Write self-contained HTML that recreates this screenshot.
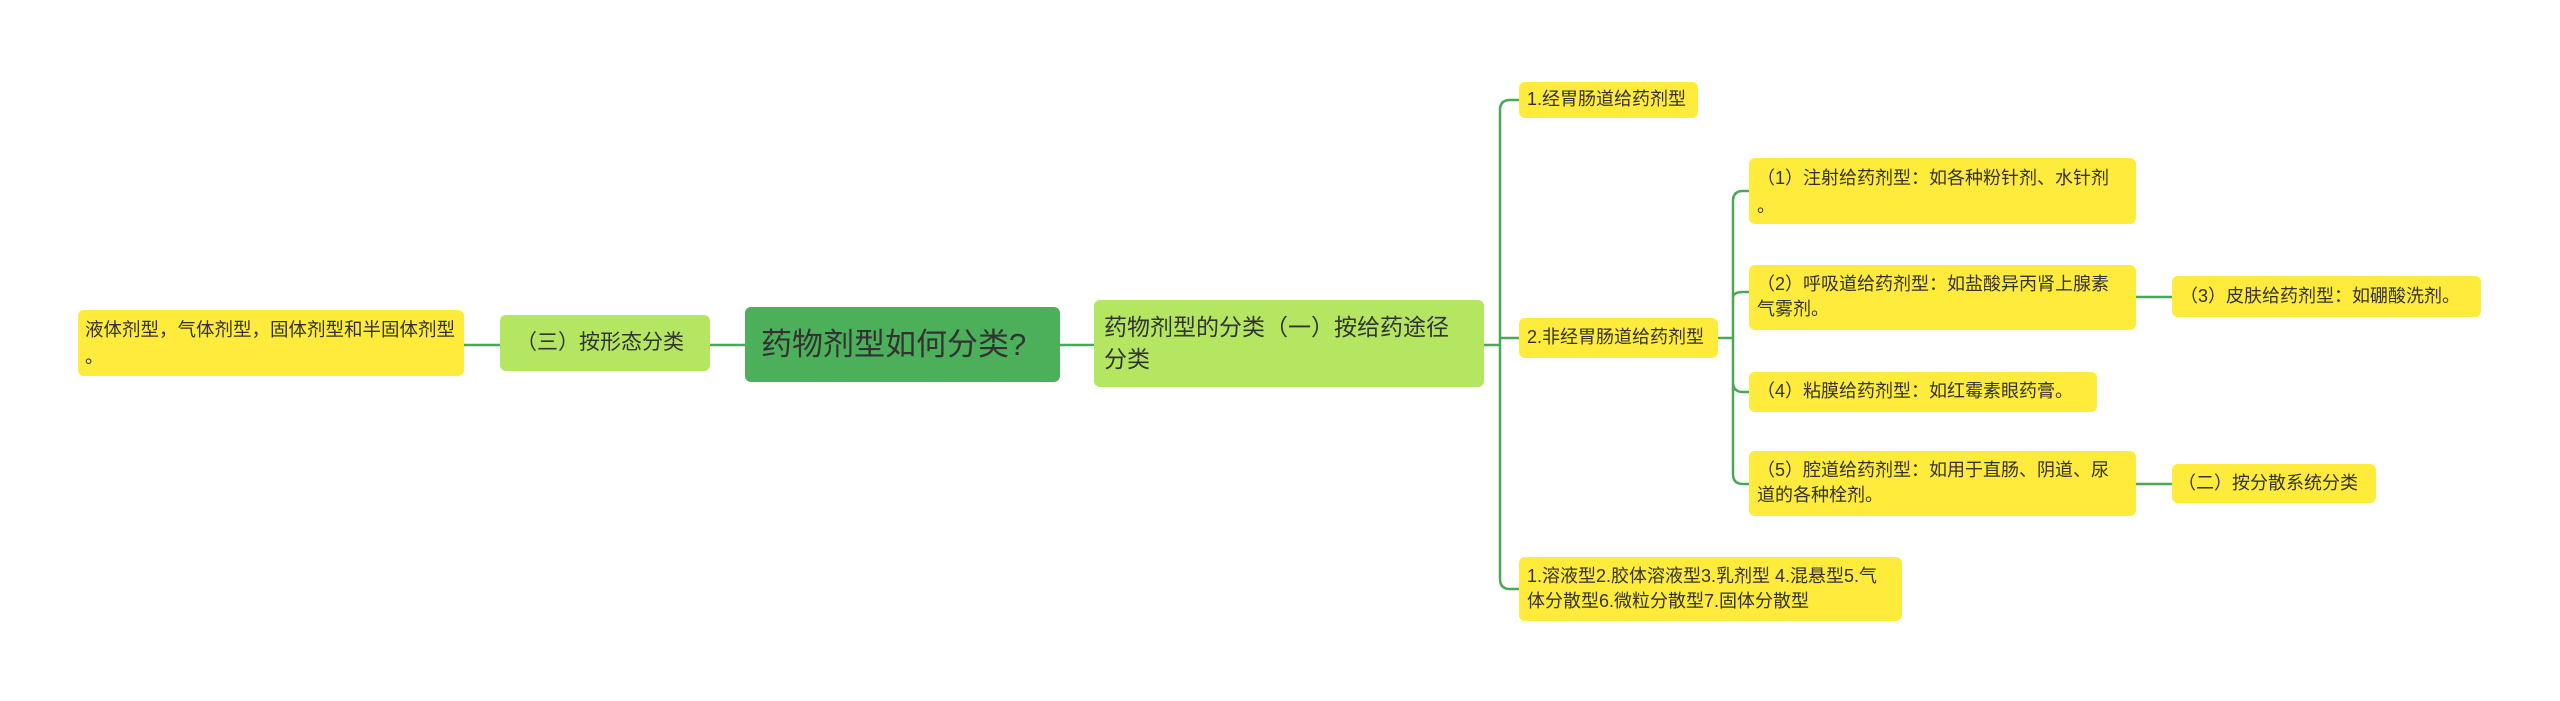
<!DOCTYPE html>
<html><head><meta charset="utf-8"><style>
body{margin:0;width:2560px;height:701px;background:#fff;position:relative;overflow:hidden;font-family:"Liberation Sans","Noto Sans CJK SC",sans-serif;color:#333}
.b{position:absolute;box-sizing:border-box;border-radius:6px;background:#ffeb3b;font-size:18px;line-height:25px;padding:8px 10px;color:#333;white-space:nowrap}
.g{background:#b5e661}
svg{position:absolute;left:0;top:0}
</style></head><body>
<svg width="2560" height="701" fill="none" stroke="#4aa857" stroke-width="2.5">
<path d="M464 345H500M710 345H745M1060 345H1094"/>
<path d="M1484 345H1500M1519 100H1510Q1500 100 1500 110V579Q1500 589 1510 589H1519M1500 338H1519"/>
<path d="M1718 338H1733M1749 191H1743Q1733 191 1733 201V474Q1733 484 1743 484H1749M1733 298Q1733 292 1743 292H1749M1733 382Q1733 392 1743 392H1749"/>
<path d="M2136 297H2172M2136 484H2172"/>
</svg>
<div class="b" style="left:78px;top:310px;width:386px;height:66px;padding:6px 7px;line-height:27px;font-size:18.5px">液体剂型，气体剂型，固体剂型和半固体剂型<br>。</div>
<div class="b g" style="left:500px;top:315px;width:210px;height:56px;font-size:21px;line-height:40px;padding:8px 10px 8px 16px">（三）按形态分类</div>
<div class="b" style="left:745px;top:307px;width:315px;height:75px;background:#4caf5a;font-size:31px;line-height:55px;padding:10px 16px;color:#333">药物剂型如何分类?</div>
<div class="b g" style="left:1094px;top:300px;width:390px;height:87px;font-size:23px;line-height:32px;padding:11px 10px">药物剂型的分类（一）按给药途径<br>分类</div>
<div class="b" style="left:1519px;top:82px;width:179px;height:36px;padding:5px 8px">1.经胃肠道给药剂型</div>
<div class="b" style="left:1519px;top:318px;width:199px;height:40px;padding:7px 8px">2.非经胃肠道给药剂型</div>
<div class="b" style="left:1749px;top:158px;width:387px;height:66px;padding:6px 8px;line-height:28px">（1）注射给药剂型：如各种粉针剂、水针剂<br>。</div>
<div class="b" style="left:1749px;top:265px;width:387px;height:65px;padding:7px 8px">（2）呼吸道给药剂型：如盐酸异丙肾上腺素<br>气雾剂。</div>
<div class="b" style="left:2172px;top:276px;width:309px;height:41px;padding:8px 8px">（3）皮肤给药剂型：如硼酸洗剂。</div>
<div class="b" style="left:1749px;top:372px;width:348px;height:40px;padding:7px 8px">（4）粘膜给药剂型：如红霉素眼药膏。</div>
<div class="b" style="left:1749px;top:451px;width:387px;height:65px;padding:7px 8px">（5）腔道给药剂型：如用于直肠、阴道、尿<br>道的各种栓剂。</div>
<div class="b" style="left:2172px;top:464px;width:204px;height:39px;padding:7px 6px">（二）按分散系统分类</div>
<div class="b" style="left:1519px;top:557px;width:383px;height:64px;padding:7px 8px">1.溶液型2.胶体溶液型3.乳剂型 4.混悬型5.气<br>体分散型6.微粒分散型7.固体分散型</div>
</body></html>
